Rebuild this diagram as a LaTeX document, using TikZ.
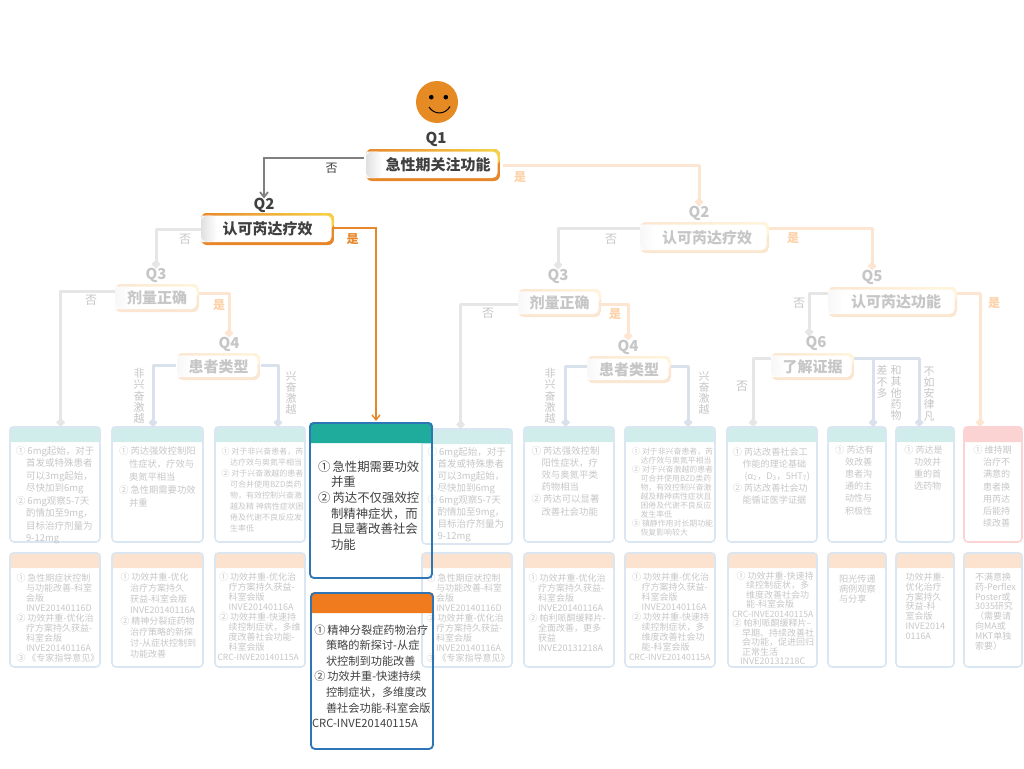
\documentclass[tikz,border=0pt]{standalone}
\usepackage{fontspec}
\setmainfont{Noto Sans CJK SC}
\usetikzlibrary{arrows.meta}

\definecolor{faceorange}{HTML}{E68A23}
\definecolor{qorange}{HTML}{E8872A}
\definecolor{qyellow}{HTML}{F6D348}
\definecolor{qorangefade}{HTML}{FBE6D2}
\definecolor{qyellowfade}{HTML}{FFF5DC}
\definecolor{darktext}{HTML}{404040}
\definecolor{fadetext}{HTML}{C6C6C6}
\definecolor{linegray}{HTML}{E6E6E6}
\definecolor{lineblue}{HTML}{D9E2EC}
\definecolor{lineorange}{HTML}{FCE6D2}
\definecolor{headteal}{HTML}{D1EDEB}
\definecolor{headpeach}{HTML}{FCE3CF}
\definecolor{headred}{HTML}{FBD3D3}
\definecolor{cardline}{HTML}{DAE6F2}
\definecolor{activeteal}{HTML}{20AC9D}
\definecolor{activeorange}{HTML}{EF7B1E}
\definecolor{activeblue}{HTML}{2E75B6}

\newcommand{\cbody}[7]{\parbox[c][#2pt][t]{#1pt}{\fontsize{#5}{#6}\selectfont
    \lineskiplimit=-100pt\lineskip=0pt\exhyphenpenalty=10000\hyphenpenalty=10000
    \leftskip=#3pt\rightskip=0pt plus 1fil\relax
    \leavevmode\rule{0pt}{#4pt}#7}}
\newcommand{\nr}[1]{\llap{#1\hspace{.5pt}}\hspace{1.5pt}}
\newcommand{\crc}{{\fontsize{8.6}{9}\selectfont\mbox{CRC-INVE20140115A}}}

\tikzset{
    qpic/.style n args={3}{path picture={
        \fill[#1] (path picture bounding box.south west) rectangle (path picture bounding box.north east);
        \shade[left color=#1, right color=#2] (path picture bounding box.north west) rectangle (path picture bounding box.east);
        \fill[white, rounded corners=5pt] ([xshift=-10pt, yshift=3pt]path picture bounding box.south west) rectangle ([xshift=-2.5pt, yshift=-2.5pt]path picture bounding box.north east);
        \shade[left color=#3, right color=white] ([yshift=3pt]path picture bounding box.south west) rectangle ([xshift=16pt, yshift=-2.5pt]path picture bounding box.north west);
    }},
    qbase/.style={rectangle, rounded corners=6pt, inner sep=0, outer sep=0, font=\fontsize{15}{15}\selectfont\bfseries},
    qbox/.style={qbase, text=darktext, qpic={qorange}{qyellow}{black!12}},
    qfade/.style={qbase, text=fadetext, qpic={qorangefade}{qyellowfade}{black!3}},
    qlabel/.style={inner sep=0, outer sep=0, text height=11pt, text depth=0pt, font=\fontsize{15}{15}\selectfont\bfseries, text=fadetext},
    nolabel/.style={inner sep=0, font=\fontsize{12}{12}\selectfont, text=fadetext},
    yeslabel/.style={inner sep=0, font=\fontsize{12}{12}\selectfont\bfseries, text=lineorange!80!orange},
    vlabel/.style={inner sep=0, align=center, font=\fontsize{11}{11.2}\selectfont, text=fadetext},
    card/.style 2 args={anchor=north west, rectangle, inner sep=0, outer sep=0, rounded corners=4pt, append after command={\pgfextra{
        \begin{pgfinterruptpath}
        \fill[#1] ([xshift=-.9pt, yshift=-#2pt]\tikzlastnode.north west) [rounded corners=4pt] -- ([xshift=-.9pt, yshift=.9pt]\tikzlastnode.north west) -- ([xshift=.9pt, yshift=.9pt]\tikzlastnode.north east) [sharp corners] -- ([xshift=.9pt, yshift=-#2pt]\tikzlastnode.north east) -- cycle;
        \end{pgfinterruptpath}
    }}},
    cardfade/.style={card={#1}{15}, draw=cardline, line width=1.6pt, text=fadetext},
    lnfade/.style={line width=3pt, line join=round, -{Diamond[length=9pt, width=9pt]}},
    lnactive/.style={-{Straight Barb[length=5pt, width=8pt]}},
}

\begin{document}
\begin{tikzpicture}[x=1pt, y=-1pt]
    \useasboundingbox (0,0) rectangle (1024,768);

    %% face
    \node[circle, fill=faceorange, minimum size=42pt, inner sep=0] (face) at (437,102) {};
    \fill[black] ([shift={(-5.7,-4.8)}]face.center) circle (2.3pt);
    \fill[black] ([shift={(8.8,-4.8)}]face.center) circle (2.3pt);
    \draw[line width=1pt] ([shift={(-8,5)}]face.center) .. controls ([shift={(-3,13)}]face.center) and ([shift={(8,13)}]face.center) .. ([shift={(13,4.5)}]face.center);

    %% questions
    \node[qlabel, text=darktext] (lq1) at (436,138) {Q1};
    \node[qbox, minimum width=134pt, minimum height=32pt] (q1) at (433,165) {\hspace{10pt}急性期关注功能};
    \node[qlabel, text=darktext] (lq2) at (264,204) {Q2};
    \node[qbox, minimum width=133pt, minimum height=32pt] (q2) at (267.5,229) {认可芮达疗效};

    \node[qlabel] (lq3) at (156,274) {Q3};
    \node[qfade, minimum width=84pt, minimum height=28pt] (q3) at (157,298) {剂量正确};
    \node[qlabel] (lq4) at (229,343) {Q4};
    \node[qfade, minimum width=83pt, minimum height=27pt] (q4) at (218.5,366.5) {患者类型};

    \node[qlabel] (rq2) at (699,212) {Q2};
    \node[qfade, minimum width=129pt, minimum height=31pt] (rq2box) at (704.5,237.5) {\hspace{5pt}认可芮达疗效};
    \node[qlabel] (rq3) at (558,275) {Q3};
    \node[qfade, minimum width=83pt, minimum height=28pt] (rq3box) at (559.5,303) {剂量正确};
    \node[qlabel] (rq4) at (628,346) {Q4};
    \node[qfade, minimum width=84pt, minimum height=27pt] (rq4box) at (629,369.5) {患者类型};
    \node[qlabel] (rq5) at (872,276) {Q5};
    \node[qfade, minimum width=129pt, minimum height=30pt] (rq5box) at (892.5,302) {\hspace{7pt}认可芮达功能};
    \node[qlabel] (rq6) at (816,342) {Q6};
    \node[qfade, minimum width=83pt, minimum height=27pt] (rq6box) at (812.5,366.5) {了解证据};

    %% upper cards
    \node[cardfade=headteal] (a1) at (10,427) {\cbody{90}{115}{16}{27}{9.5}{12.5}{%
        \nr{①}6mg起始，对于\\首发或特殊患者\\可以3mg起始，\\尽快加到6mg\\\nr{②}6mg观察5-7天\\酌情加至9mg，\\目标治疗剂量为\\9-12mg}};
    \node[cardfade=headteal] (a2) at (112,427) {\cbody{91}{115}{17}{27.5}{9.3}{13}{%
        \nr{①}芮达强效控制阳\\性症状，疗效与\\奥氮平相当\\\nr{②}急性期需要功效\\并重}};
    \node[cardfade=headteal] (a3) at (215,427) {\cbody{90}{115}{15}{27}{8}{11}{%
        \nr{①}对于非兴奋患者，芮\\达疗效与奥氮平相当\\\nr{②}对于兴奋激越的患者\\可合并使用BZD类药\\物，有效控制兴奋激\\越及精 神病性症状困\\倦及代谢不良反应发\\生率低}};
    \node[cardfade=headteal] (a4) at (422,429) {\cbody{90}{115}{15.5}{26}{9.5}{12}{%
        \nr{①}6mg起始，对于\\首发或特殊患者\\可以3mg起始，\\尽快加到6mg\\\nr{②}6mg观察5-7天\\酌情加至9mg，\\目标治疗剂量为\\9-12mg}};
    \node[cardfade=headteal] (a5) at (524,427) {\cbody{90}{115}{17.5}{27}{9.4}{12.2}{%
        \nr{①}芮达强效控制\\阳性症状，疗\\效与奥氮平类\\药物相当\\\nr{②}芮达可以显著\\改善社会功能}};
    \node[cardfade=headteal] (a6) at (625,427) {\cbody{90}{115}{15.5}{27}{7.9}{9}{%
        \nr{①}对于非兴奋患者，芮\\达疗效与奥氮平相当\\\nr{②}对于兴奋激越的患者\\可合并使用BZD类药\\物，有效控制兴奋激\\越及精神病性症状且\\困倦及代谢不良反应\\发生率低\\\nr{③}镇静作用对长期功能\\恢复影响较大}};
    \node[cardfade=headteal] (a7) at (727,427) {\cbody{90}{115}{15.5}{28}{9.1}{12}{%
        \nr{①}芮达改善社会工\\作能的理论基础\\\hspace*{2pt}(α\textsubscript{2}，D\textsubscript{3}，5HT\textsubscript{7})\\\nr{②}芮达改善社会功\\能循证医学证据}};
    \node[cardfade=headteal] (a8) at (828,427) {\cbody{58}{115}{17}{26.5}{9.1}{12.1}{%
        \nr{①}芮达有\\效改善\\患者沟\\通的主\\动性与\\积极性}};
    \node[cardfade=headteal] (a9) at (896,427) {\cbody{58}{115}{18}{26.5}{9.1}{12.1}{%
        \nr{①}芮达是\\功效并\\重的首\\选药物}};
    \node[cardfade=headred, draw=headred] (a10) at (964,427) {\cbody{58}{115}{19}{26.5}{9.1}{12.2}{%
        \nr{①}维持期\\治疗不\\满意的\\患者换\\用芮达\\后能持\\续改善}};

    %% lower cards
    \node[cardfade=headpeach] (b1) at (10,553) {\cbody{90}{114}{16}{28}{9}{10}{%
        \nr{①}急性期症状控制\\与功能改善-科室\\会版\\INVE20140116D\\\nr{②}功效并重-优化治\\疗方案持久获益-\\科室会版\\INVE20140116A\\\nr{③}《专家指导意见》}};
    \node[cardfade=headpeach] (b2) at (112,553) {\cbody{91}{114}{18}{27}{9}{11}{%
        \nr{①}功效并重-优化\\治疗方案持久\\获益-科室会版\\INVE20140116A\\\nr{②}精神分裂症药物\\治疗策略的新探\\讨-从症状控制到\\功能改善}};
    \node[cardfade=headpeach] (b3) at (215,553) {\cbody{90}{114}{13.5}{27}{9}{10}{%
        \nr{①}功效并重-优化治\\疗方案持久获益-\\科室会版\\INVE20140116A\\\nr{②}功效并重-快速持\\续控制症状，多维\\度改善社会功能-\\科室会版\\\hspace*{-11pt}\crc}};
    \node[cardfade=headpeach] (b4) at (422,553) {\cbody{90}{114}{14}{28}{9}{10}{%
        \nr{①}急性期症状控制\\与功能改善-科室\\会版\\INVE20140116D\\\nr{②}功效并重-优化治\\疗方案持久获益-\\科室会版\\INVE20140116A\\\nr{③}《专家指导意见》}};
    \node[cardfade=headpeach] (b5) at (524,553) {\cbody{90}{114}{14}{28}{9}{10}{%
        \nr{①}功效并重-优化治\\疗方案持久获益-\\科室会版\\INVE20140116A\\\nr{②}帕利哌酮缓释片-\\全面改善，更多\\获益\\INVE20131218A}};
    \node[cardfade=headpeach] (b6) at (625,553) {\cbody{90}{114}{16.5}{27.5}{9}{10}{%
        \nr{①}功效并重-优化治\\疗方案持久获益-\\科室会版\\INVE20140116A\\\nr{②}功效并重-快速持\\续控制症状，多\\维度改善社会功\\能-科室会版\\\hspace*{-12.5pt}\crc}};
    \node[cardfade=headpeach] (b7) at (728,553) {\cbody{89}{114}{18}{26}{9}{9.55}{%
        \nr{①}功效并重-快速持\\续控制症状，多\\维度改善社会功\\能-科室会版\\\hspace*{-14pt}\crc\\\hspace*{-4pt}\nr{②}帕利哌酮缓释片--\\\hspace*{-4pt}早期、持续改善社\\\hspace*{-4pt}会功能，促进回归\\\hspace*{-4pt}正常生活\\\hspace*{-6pt}INVE20131218C}};
    \node[cardfade=headpeach] (b8) at (828,553) {\cbody{58}{114}{11}{29.5}{9.2}{10}{%
        阳光传递\\病例观察\\与分享}};
    \node[cardfade=headpeach] (b9) at (896,553) {\cbody{58}{114}{9.5}{27.5}{9}{9.8}{%
        功效并重-\\优化治疗\\方案持久\\获益-科\\室会版\\INVE2014\\0116A}};
    \node[cardfade=headpeach] (b10) at (964,553) {\cbody{58}{114}{11}{27.5}{9}{9.8}{%
        不满意换\\药-Perflex\\Poster或\\3035研究\\（需要请\\向MA或\\MKT单独\\索要）}};

    %% active cards
    \node[card={activeteal}{20}, draw=activeblue, line width=1.8pt, text=darktext] (ca) at (310,423) {\cbody{122}{155}{21}{48}{12.4}{15.7}{%
        \nr{①}急性期需要功效\\并重\\\nr{②}芮达不仅强效控\\制精神症状，而\\且显著改善社会\\功能}};
    \node[card={activeorange}{20}, draw=activeblue, line width=1.8pt, text=darktext] (cb) at (311,593) {\cbody{122}{156}{15}{41}{11.2}{15.6}{%
        \nr{①}精神分裂症药物治疗\\策略的新探讨-从症\\状控制到功能改善\\\nr{②}功效并重-快速持续\\控制症状，多维度改\\善社会功能-科室会版\\\hspace*{-14pt}\mbox{CRC-INVE20140115A}}};

    %% connectors, left tree
    \draw[lnfade, linegray] (q2.west) -| (lq3.north);
    \draw[lnfade, linegray] ([yshift=7pt]q3.west) -| ([xshift=5.7pt]a1.north);
    \draw[lnfade, lineorange] ([yshift=5pt]q3.east) -| (lq4.north);
    \draw[lnfade, lineblue] ([xshift=-1pt, yshift=1.5pt]q4.west) -| ([xshift=-4.5pt]a2.north);
    \draw[lnfade, lineblue] ([xshift=1pt, yshift=1.5pt]q4.east) -| ([xshift=18pt]a3.north);

    %% connectors, right tree
    \draw[lnfade, lineorange] ([xshift=3pt, yshift=-.7pt]q1.east) -| (rq2.north);
    \draw[lnfade, linegray] ([yshift=9.5pt]rq2box.west) -| (rq3.north);
    \draw[lnfade, lineorange] ([yshift=9.5pt]rq2box.east) -| (rq5.north);
    \draw[lnfade, linegray] ([yshift=-1pt]rq3box.west) -| ([xshift=-6.3pt]a4.north);
    \draw[lnfade, lineorange] ([yshift=-1pt]rq3box.east) -| (rq4.north);
    \draw[lnfade, lineblue] ([yshift=3.5pt]rq4box.west) -| ([xshift=-3.3pt]a5.north);
    \draw[lnfade, lineblue] ([yshift=3.5pt]rq4box.east) -| ([xshift=18pt]a6.north);
    \draw[lnfade, linegray] ([yshift=9pt]rq5box.west) -| ([xshift=-7pt]rq6.north);
    \draw[lnfade, lineorange] ([yshift=9pt]rq5box.east) -| ([xshift=-13pt]a10.north);
    \draw[lnfade, linegray] ([yshift=8.5pt]rq6box.west) -| ([xshift=-19pt]a7.north);
    \draw[lnfade, lineblue] ([yshift=8.5pt]rq6box.east) -| ([xshift=-6pt]a9.north);
    \coordinate (q6out) at ([yshift=8.5pt]rq6box.east);
    \coordinate (q6mid) at ([xshift=16pt]a8.north |- q6out);
    \draw[lnfade, lineblue] (q6mid) -- ([xshift=16pt]a8.north);

    %% connectors, active path
    \draw[lnactive, line width=1.8pt, black!50] ([xshift=-2pt, yshift=7pt]q1.west) -| (lq2.north);
    \draw[lnactive, line width=1.4pt, qorange] ([yshift=1pt]q2.east) -| ([xshift=5pt, yshift=2pt]ca.north);

    %% labels
    \node[nolabel, text=darktext] (no1) at (331.5,168.5) {否};
    \node[yeslabel, text=qorange] (yes1) at (352.5,239.5) {是};
    \node[yeslabel] (yes2) at (520,177) {是};
    \node[nolabel] (no2) at (185,239) {否};
    \node[nolabel] (no3) at (91,300) {否};
    \node[yeslabel] (yes3) at (219,305) {是};
    \node[nolabel] (no4) at (611,239) {否};
    \node[yeslabel] (yes4) at (793,238) {是};
    \node[nolabel] (no5) at (488,313) {否};
    \node[yeslabel] (yes5) at (615,314) {是};
    \node[nolabel] (no6) at (799,303) {否};
    \node[yeslabel] (yes6) at (994,303) {是};
    \node[nolabel] (no7) at (742,386) {否};

    \node[vlabel] (v1) at (139,396) {非\\兴\\奋\\激\\越};
    \node[vlabel] (v2) at (291,393) {兴\\奋\\激\\越};
    \node[vlabel] (v3) at (550,396) {非\\兴\\奋\\激\\越};
    \node[vlabel] (v4) at (704,393) {兴\\奋\\激\\越};
    \node[vlabel] (v5) at (882,382) {差\\不\\多};
    \node[vlabel] (v6) at (896,393) {和\\其\\他\\药\\物};
    \node[vlabel] (v7) at (929,394) {不\\如\\安\\律\\凡};
\end{tikzpicture}
\end{document}
